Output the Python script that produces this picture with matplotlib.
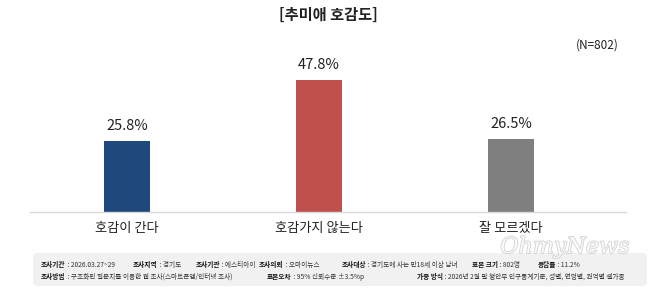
import matplotlib
matplotlib.use("Agg")
import matplotlib.pyplot as plt
from matplotlib.patches import FancyBboxPatch
import matplotlib.patheffects as pe

plt.rcParams['font.family'] = ['Noto Sans CJK KR', 'DejaVu Sans']

# 데이터
categories = ['호감이 간다', '호감가지 않는다', '잘 모르겠다']
values = [25.8, 47.8, 26.5]
colors = ['#1f497d', '#c0504d', '#7f7f7f']

title = '[추미애 호감도]'
sample = '(N=802)'

footer1 = [('조사기간', '2026.03.27~29'), ('조사지역', '경기도'), ('조사기관', '에스티아이'),
           ('조사의뢰', '오마이뉴스'), ('조사대상', '경기도에 사는 만18세 이상 남녀'),
           ('표본 크기', '802명'), ('응답률', '11.2%')]
footer1_x = [41, 133, 196, 259, 342, 472, 538]
footer2 = [('조사방법', '구조화된 질문지를 이용한 웹 조사(스마트폰앱/인터넷 조사)'),
           ('표본오차', '95% 신뢰수준 ±3.5%p'),
           ('가중 방식', '2026년 2월 말 행안부 인구통계기준, 성별, 연령별, 권역별 셀가중')]
footer2_x = [41, 267, 417]

W, H = 658, 291
fig = plt.figure(figsize=(W / 100, H / 100), dpi=100)
fig.patch.set_facecolor('white')

ax = fig.add_axes([30 / W, (H - 212) / H, 596 / W, 152 / H])
x = range(len(categories))
bars = ax.bar(x, values, width=0.24, color=colors, zorder=2)
ax.set_xlim(-0.505, 2.599)
ax.set_ylim(0, 55.2)
for s in ['top', 'right', 'left']:
    ax.spines[s].set_visible(False)
ax.spines['bottom'].set_color('#d9d9d9')
ax.spines['bottom'].set_linewidth(1)
ax.set_yticks([])
ax.set_xticks(list(x))
ax.set_xticklabels(categories, fontsize=9.5, color='#222222')
ax.tick_params(axis='x', length=0, pad=7)
for b, v in zip(bars, values):
    ax.annotate(f'{v}%', (b.get_x() + b.get_width() / 2, v), xytext=(0, 6),
                textcoords='offset points', ha='center', va='bottom', fontsize=10.5, color='#222222')

fig.text(328 / W, 1 - 15 / H, title, ha='center', va='center', fontsize=11, fontweight='bold', color='#222222')
fig.text(619 / W, 1 - 45 / H, sample, ha='right', va='center', fontsize=8.5, color='#222222')

# 하단 조사 개요 박스
box = FancyBboxPatch((33 / W, (H - 286) / H), 614 / W, 33 / H,
                     boxstyle='round,pad=0,rounding_size=0.01', transform=fig.transFigure,
                     facecolor='#f1f1f1', edgecolor='none', zorder=0)
fig.patches.append(box)

fig.canvas.draw()
r = fig.canvas.get_renderer()


def footer_line(items, xs, y, fs):
    for (lab, val), xp in zip(items, xs):
        t = fig.text(xp / W, 1 - y / H, lab, ha='left', va='center', fontsize=fs,
                     fontweight='bold', color='#111111')
        w = t.get_window_extent(renderer=r).width
        fig.text((xp + w) / W, 1 - y / H, ' : ' + val, ha='left', va='center',
                 fontsize=fs, color='#333333')


footer_line(footer1, footer1_x, 265, 4.8)
footer_line(footer2, footer2_x, 277, 4.8)

# 워터마크
wm = fig.text(565 / W, 1 - 247 / H, 'OhmyNews', ha='center', va='center', fontsize=16,
              family='DejaVu Serif', style='italic', color='white', alpha=0.85,
              path_effects=[pe.withStroke(linewidth=1.1, foreground='#c8c8c8')])

fig.savefig('out.png', dpi=100)
